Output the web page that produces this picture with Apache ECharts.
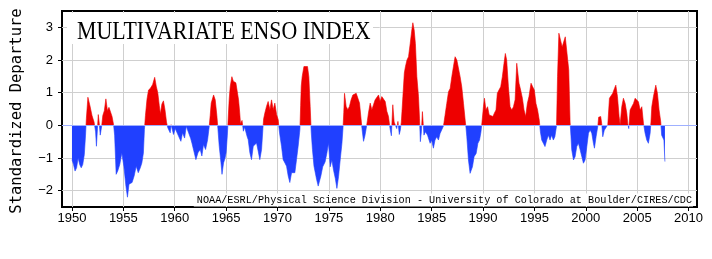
<!DOCTYPE html>
<html>
<head>
<meta charset="utf-8">
<script src="https://cdn.jsdelivr.net/npm/echarts@6/dist/echarts.min.js"></script>
<style>
  html, body { margin: 0; padding: 0; background: #fff; }
  #chart { width: 712px; height: 259px; }
</style>
</head>
<body>
<div id="chart"></div>
<script>
// Multivariate ENSO Index as [decimal year, index].

const mei1950s = [
  [1950.00,-1.05],[1950.15,-1.20],[1950.30,-1.40],[1950.45,-1.30],[1950.60,-1.00],[1950.75,-1.20],
  [1950.90,-1.30],[1951.05,-1.20],[1951.20,-0.90],[1951.32,-0.30],[1951.40,0.20],[1951.55,0.86],
  [1951.75,0.60],[1951.95,0.30],[1952.15,0.10],[1952.30,-0.20],[1952.38,-0.64],[1952.48,-0.10],
  [1952.56,0.33],[1952.66,0.05],[1952.75,-0.30],[1952.88,-0.05],[1953.00,0.30],[1953.15,0.45],
  [1953.30,0.81],[1953.45,0.45],[1953.60,0.55],[1953.75,0.50],[1953.90,0.27],[1954.05,0.02],
  [1954.15,-0.30],[1954.30,-1.50],[1954.45,-1.40],[1954.65,-1.20],[1954.85,-0.85],[1955.05,-1.25],
  [1955.25,-1.86],[1955.40,-2.20],[1955.55,-1.80],[1955.70,-1.86],[1955.85,-1.75],[1956.05,-1.55],
  [1956.25,-1.25],[1956.45,-1.45],[1956.65,-1.30],[1956.80,-1.15],[1956.95,-0.85],[1957.05,-0.13],
  [1957.15,0.30],[1957.30,0.80],[1957.45,1.08],[1957.65,1.14],[1957.85,1.25],[1958.05,1.47],
  [1958.20,1.20],[1958.35,1.00],[1958.50,0.60],[1958.60,0.35],[1958.75,0.65],[1958.90,0.75],
  [1959.05,0.48],[1959.20,0.10],[1959.30,-0.05],[1959.40,-0.13],[1959.56,-0.23],[1959.65,0.02],
  [1959.88,-0.28]
];

const mei1960s = [
  [1960.05,-0.10],[1960.21,-0.13],[1960.37,-0.33],[1960.60,-0.49],[1960.76,-0.23],[1960.96,-0.39],
  [1961.12,-0.03],[1961.35,-0.23],[1961.55,-0.40],[1961.67,-0.54],[1961.90,-0.84],[1962.06,-1.05],
  [1962.26,-0.84],[1962.48,-0.74],[1962.64,-0.94],[1962.80,-0.59],[1963.00,-0.74],[1963.20,-0.44],
  [1963.35,-0.05],[1963.45,0.30],[1963.55,0.68],[1963.78,0.93],[1963.94,0.78],[1964.10,0.30],
  [1964.20,-0.10],[1964.33,-0.64],[1964.50,-1.15],[1964.60,-1.50],[1964.75,-1.15],[1964.90,-1.00],
  [1965.00,-0.84],[1965.12,-0.30],[1965.20,0.20],[1965.30,0.80],[1965.40,1.19],[1965.56,1.49],
  [1965.70,1.35],[1965.79,1.39],[1965.95,1.30],[1966.05,1.29],[1966.21,0.78],[1966.32,0.40],
  [1966.40,0.05],[1966.55,0.15],[1966.68,-0.18],[1966.80,-0.05],[1966.92,-0.20],[1967.05,-0.35],
  [1967.15,-0.44],[1967.31,-0.84],[1967.47,-1.05],[1967.64,-0.64],[1967.80,-0.69],[1967.96,-0.54],
  [1968.12,-0.79],[1968.28,-1.05],[1968.45,-0.74],[1968.58,-0.10],[1968.65,0.20],[1968.77,0.38],
  [1968.93,0.58],[1969.09,0.73],[1969.26,0.48],[1969.42,0.78],[1969.58,0.48],[1969.74,0.68],
  [1969.91,0.33]
];

const mei1970s = [
  [1970.07,0.17],[1970.15,-0.10],[1970.23,-0.30],[1970.39,-0.64],[1970.55,-1.05],[1970.72,-1.15],
  [1970.88,-1.25],[1971.04,-1.55],[1971.20,-1.75],[1971.37,-1.45],[1971.53,-1.40],[1971.69,-1.45],
  [1971.85,-1.05],[1972.01,-0.64],[1972.18,-0.13],[1972.25,0.60],[1972.31,1.20],[1972.40,1.49],
  [1972.57,1.80],[1972.76,1.75],[1972.92,1.80],[1973.05,1.49],[1973.18,0.58],[1973.28,-0.20],
  [1973.40,-0.74],[1973.55,-1.25],[1973.80,-1.65],[1973.96,-1.86],[1974.06,-1.90],[1974.22,-1.55],
  [1974.40,-1.27],[1974.63,-1.12],[1974.80,-0.86],[1974.96,-0.55],[1975.13,-1.27],[1975.29,-1.06],
  [1975.45,-1.37],[1975.62,-1.62],[1975.78,-1.93],[1975.94,-1.57],[1976.10,-1.06],[1976.27,-0.55],
  [1976.38,-0.05],[1976.45,0.40],[1976.52,0.98],[1976.68,0.58],[1976.84,0.48],[1977.00,0.58],
  [1977.16,0.78],[1977.33,0.93],[1977.49,0.88],[1977.66,0.98],[1977.82,0.93],[1977.98,0.68],
  [1978.14,0.17],[1978.22,-0.10],[1978.37,-0.49],[1978.50,-0.33],[1978.63,-0.10],[1978.75,0.15],
  [1978.85,0.38],[1979.02,0.68],[1979.18,0.48],[1979.34,0.63],[1979.50,0.78],[1979.67,0.73],
  [1979.83,0.93],[1979.99,0.73]
];

const mei1980s = [
  [1980.15,0.88],[1980.31,0.88],[1980.48,0.73],[1980.64,0.43],[1980.80,0.27],[1980.95,-0.10],
  [1981.08,-0.32],[1981.22,0.63],[1981.35,0.10],[1981.50,0.15],[1981.60,-0.10],[1981.72,0.12],
  [1981.85,-0.28],[1981.95,-0.15],[1982.05,0.10],[1982.20,0.88],[1982.34,1.60],[1982.45,1.80],
  [1982.60,2.00],[1982.75,2.10],[1982.91,2.50],[1983.07,2.92],[1983.17,3.14],[1983.30,2.92],
  [1983.42,2.50],[1983.56,1.49],[1983.72,0.88],[1983.82,0.20],[1983.90,-0.50],[1984.00,-0.20],
  [1984.10,0.42],[1984.18,0.05],[1984.25,-0.30],[1984.40,-0.20],[1984.60,-0.30],[1984.85,-0.55],
  [1985.00,-0.45],[1985.17,-0.70],[1985.33,-0.45],[1985.50,-0.35],[1985.66,-0.45],[1985.82,-0.25],
  [1985.98,-0.30],[1986.15,-0.02],[1986.30,0.30],[1986.47,0.67],[1986.64,1.03],[1986.80,1.13],
  [1986.96,1.49],[1987.12,1.80],[1987.28,2.10],[1987.45,2.00],[1987.60,2.00],[1987.77,1.49],
  [1987.93,1.18],[1988.10,0.67],[1988.26,0.16],[1988.35,-0.10],[1988.42,-0.35],[1988.58,-1.06],
  [1988.74,-1.47],[1988.84,-1.52],[1988.97,-1.27],[1989.13,-0.96],[1989.33,-0.86],[1989.50,-0.55],
  [1989.66,-0.45],[1989.80,-0.20],[1989.90,0.10]
];

const mei1990s = [
  [1990.04,0.57],[1990.14,0.83],[1990.28,0.47],[1990.44,0.57],[1990.60,0.32],[1990.76,0.37],
  [1990.96,0.27],[1991.10,0.37],[1991.26,0.47],[1991.39,0.98],[1991.55,1.08],[1991.72,1.18],
  [1991.88,1.49],[1992.04,1.90],[1992.17,2.20],[1992.30,2.00],[1992.47,1.18],[1992.63,0.57],
  [1992.80,0.47],[1992.96,0.57],[1993.12,0.78],[1993.28,1.90],[1993.38,1.90],[1993.50,1.29],
  [1993.66,1.08],[1993.83,0.83],[1993.99,0.47],[1994.15,0.27],[1994.31,0.67],[1994.47,0.88],
  [1994.67,1.29],[1994.83,1.18],[1994.99,1.08],[1995.15,0.67],[1995.31,0.47],[1995.47,0.16],
  [1995.58,-0.20],[1995.71,-0.45],[1995.87,-0.55],[1996.03,-0.65],[1996.20,-0.45],[1996.36,-0.30],
  [1996.52,-0.45],[1996.68,-0.30],[1996.84,-0.45],[1996.99,-0.35],[1997.15,-0.02],[1997.25,1.50],
  [1997.38,2.82],[1997.53,2.86],[1997.70,2.40],[1997.85,2.40],[1998.00,2.71],[1998.17,2.71],
  [1998.34,1.70],[1998.47,0.10],[1998.55,-0.30],[1998.63,-0.75],[1998.80,-1.06],[1998.96,-0.96],
  [1999.12,-0.65],[1999.28,-0.55],[1999.45,-0.75],[1999.61,-0.96],[1999.77,-1.16],[1999.93,-1.06]
];

const mei2000s = [
  [2000.10,-0.65],[2000.26,-0.24],[2000.42,-0.14],[2000.58,-0.24],[2000.74,-0.55],[2000.84,-0.70],
  [2001.00,-0.35],[2001.17,-0.02],[2001.25,0.25],[2001.45,0.27],[2001.55,0.05],[2001.65,-0.35],
  [2001.80,-0.15],[2001.98,-0.14],[2002.14,0.02],[2002.30,0.83],[2002.46,0.88],[2002.62,0.98],
  [2002.79,1.13],[2002.92,1.23],[2003.08,0.88],[2003.24,0.27],[2003.34,0.02],[2003.50,0.57],
  [2003.66,0.83],[2003.83,0.67],[2003.99,0.37],[2004.08,0.06],[2004.18,-0.10],[2004.31,0.47],
  [2004.47,0.57],[2004.64,0.67],[2004.80,0.83],[2004.96,0.88],[2005.12,0.72],[2005.29,0.47],
  [2005.45,0.57],[2005.61,0.06],[2005.77,-0.24],[2005.93,-0.45],[2006.09,-0.55],[2006.26,-0.24],
  [2006.34,0.10],[2006.42,0.57],[2006.58,0.88],[2006.81,1.23],[2006.97,0.98],[2007.13,0.47],
  [2007.29,0.11],[2007.38,-0.30],[2007.50,-0.35],[2007.60,-0.45],[2007.70,-1.11]
];

const yearTicks = [1950, 1955, 1960, 1965, 1970, 1975, 1980, 1985, 1990, 1995, 2000, 2005, 2010];
const indexTicks = [-2, -1, 0, 1, 2, 3];

const titleText = "MULTIVARIATE ENSO INDEX";
const yAxisTitle = "Standardized Departure";
const creditText = "NOAA/ESRL/Physical Science Division - University of Colorado at Boulder/CIRES/CDC";

const meiSeries = [...mei1950s, ...mei1960s, ...mei1970s, ...mei1980s, ...mei1990s, ...mei2000s];

const RED = "#ee0000";
const BLUE = "#2040ff";
const GRID = "#cfcfcf";
const LABEL_FONT = "Liberation Sans";

const chart = echarts.init(document.getElementById("chart"), null, { renderer: "canvas" });

chart.setOption({
  animation: false,
  backgroundColor: "#fff",
  grid: { left: 62, right: 15, top: 11, bottom: 52, show: true, borderColor: "#000", borderWidth: 2, backgroundColor: "#fff" },
  xAxis: {
    type: "value", min: 1949.03, max: 2010.82,
    axisLine: { show: false, onZero: false },
    axisTick: { show: true, inside: false, length: 4, customValues: yearTicks, lineStyle: { color: "#000", width: 1 } },
    axisLabel: { customValues: yearTicks, color: "#000", fontFamily: LABEL_FONT, fontSize: 13, margin: 5, formatter: v => String(v) },
    splitLine: { show: true, lineStyle: { color: GRID, width: 1 } },
  },
  yAxis: {
    type: "value", min: -2.5, max: 3.5,
    axisLine: { show: false, onZero: false },
    axisTick: { show: true, inside: false, length: 4, customValues: indexTicks, lineStyle: { color: "#000", width: 1 } },
    axisLabel: { customValues: indexTicks, color: "#000", fontFamily: LABEL_FONT, fontSize: 13, margin: 9,
      formatter: v => (v < 0 ? "\u2212" + Math.abs(v) : String(v)) },
    splitLine: { show: true, lineStyle: { color: GRID, width: 1 } },
  },
  visualMap: {
    show: false, type: "piecewise", seriesIndex: 0, dimension: 1,
    pieces: [{ gt: 0, lte: 10, color: RED }, { gt: -10, lte: 0, color: BLUE }],
    outOfRange: { color: BLUE },
  },
  series: [{
    type: "line",
    data: meiSeries,
    showSymbol: false,
    symbol: "none",
    lineStyle: { width: 0.6 },
    areaStyle: { opacity: 1, origin: 0 },
    z: 2,
    markLine: {
      silent: true, symbol: "none", z: 3,
      label: { show: false },
      lineStyle: { color: "#9fb0ff", width: 1, type: "solid" },
      data: [{ yAxis: 0 }],
    },
  }],
  graphic: [
    { type: "rect", left: 67, top: 13, z: 10, shape: { width: 306, height: 31 }, style: { fill: "#fff" } },
    { type: "text", x: 77, y: 32, z: 11, scaleX: 0.84,
      style: { text: titleText, font: '26px "Liberation Serif"', fill: "#000", verticalAlign: "middle" } },
    { type: "text", x: 17, y: 111, z: 11, rotation: Math.PI / 2,
      style: { text: yAxisTitle, font: '15.5px "DejaVu Sans Mono"', fill: "#000", align: "center", verticalAlign: "middle" } },
    { type: "text", x: 693, y: 200, z: 11,
      style: { text: creditText, font: '10.2px "Liberation Mono"', fill: "#000", align: "right", verticalAlign: "middle",
        backgroundColor: "#fff", padding: [2, 1, 1, 3] } },
  ],
});
</script>
</body>
</html>
